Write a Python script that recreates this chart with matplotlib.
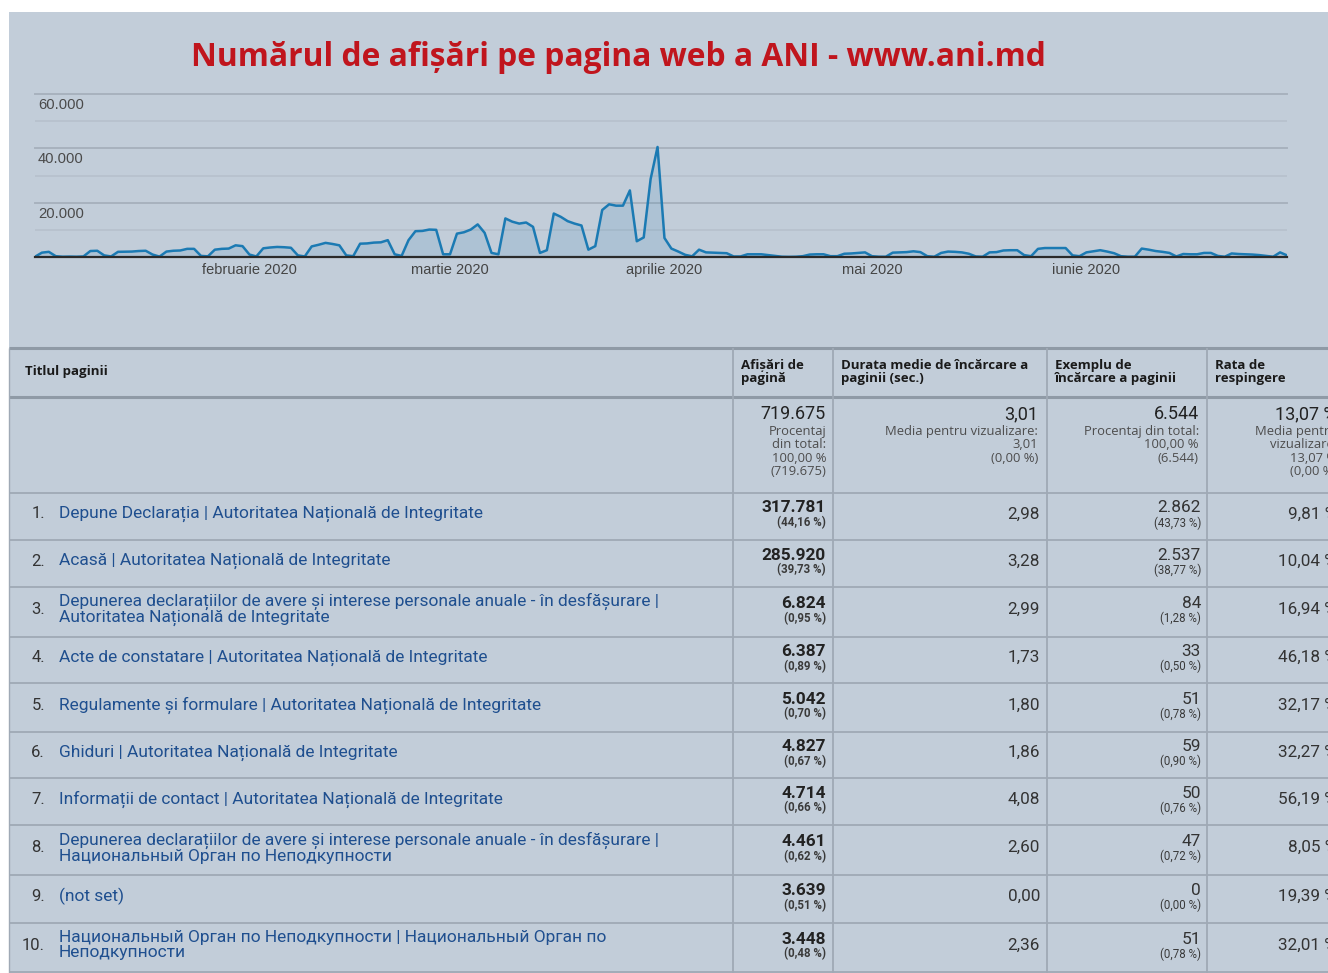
import numpy as np
import pandas as pd
import matplotlib
matplotlib.use('Agg')
import matplotlib.pyplot as plt
from matplotlib.patches import Rectangle

W, H = 1328, 973

# afisari zilnice 1 ian - 30 iun 2020, pe saptamani
afisari_zilnice = (
    [100, 1600, 1900, 300, 100]
    + [150, 100, 200, 2200, 2300, 600, 200]
    + [1900, 1950, 2000, 2200, 2300, 900, 150]
    + [2000, 2300, 2400, 3000, 3000, 400, 250]
    + [2700, 3000, 3100, 4300, 4000, 900, 200]
    + [3200, 3500, 3700, 3600, 3400, 600, 200]
    + [3900, 4500, 5200, 4800, 4300, 600, 300]
    + [4900, 5000, 5300, 5400, 6200, 1000, 400]
    + [6200, 9500, 9600, 10100, 10000, 1000, 1000]
    + [8600, 9100, 10100, 12000, 8900, 1500, 1000]
    + [14200, 13000, 12300, 12700, 11100, 1500, 2500]
    + [16000, 14800, 13200, 12300, 11600, 2700, 4000]
    + [17300, 19400, 18900, 18900, 24500, 5800, 7200]
    + [28700, 40500, 7000, 3100, 2000, 800, 250]
    + [2700, 1700, 1600, 1500, 1400, 200, 200]
    + [1000, 1000, 1000, 700, 400, 100, 50]
    + [100, 300, 900, 1000, 1000, 300, 300]
    + [1200, 1300, 1500, 1700, 300, 100, 100]
    + [1600, 1700, 1800, 2100, 1800, 300, 100]
    + [1500, 2000, 1900, 1700, 1200, 200, 100]
    + [1700, 1800, 2400, 2500, 2500, 700, 300]
    + [3000, 3300, 3300, 3300, 3300, 600, 300]
    + [1700, 2100, 2500, 2000, 1400, 300, 100]
    + [100, 3100, 2700, 2200, 1900, 1500, 200]
    + [1100, 1000, 1000, 1500, 1500, 400, 100]
    + [1300, 1100, 1000, 900, 700, 400, 100]
    + [1700, 600]
)
zile = pd.date_range('2020-01-01', '2020-06-30', freq='D')

luni = ['februarie 2020', 'martie 2020', 'aprilie 2020', 'mai 2020', 'iunie 2020']
luni_start = pd.to_datetime(['2020-02-01', '2020-03-01', '2020-04-01', '2020-05-01', '2020-06-01'])
y_major = [20000, 40000, 60000]
y_major_lbl = ['20.000', '40.000', '60.000']
y_minor = [10000, 30000, 50000]

titlu = 'Numărul de afișări pe pagina web a ANI - www.ani.md'

# tabel
coloane = ['Titlul paginii', 'Afișări de\npagină', 'Durata medie de încărcare a\npaginii (sec.)',
           'Exemplu de\nîncărcare a paginii', 'Rata de\nrespingere']
total_afisari = 719675
total_durata = 3.01
total_exemplu = 6544
total_rata = 13.07

pagini = [
    'Depune Declarația | Autoritatea Națională de Integritate',
    'Acasă | Autoritatea Națională de Integritate',
    'Depunerea declarațiilor de avere și interese personale anuale - în desfășurare |\nAutoritatea Națională de Integritate',
    'Acte de constatare | Autoritatea Națională de Integritate',
    'Regulamente și formulare | Autoritatea Națională de Integritate',
    'Ghiduri | Autoritatea Națională de Integritate',
    'Informații de contact | Autoritatea Națională de Integritate',
    'Depunerea declarațiilor de avere și interese personale anuale - în desfășurare |\nНациональный Орган по Неподкупности',
    '(not set)',
    'Национальный Орган по Неподкупности | Национальный Орган по\nНеподкупности',
]
afisari = [317781, 285920, 6824, 6387, 5042, 4827, 4714, 4461, 3639, 3448]
afisari_pct = [44.16, 39.73, 0.95, 0.89, 0.70, 0.67, 0.66, 0.62, 0.51, 0.48]
durata = [2.98, 3.28, 2.99, 1.73, 1.80, 1.86, 4.08, 2.60, 0.00, 2.36]
exemplu = [2862, 2537, 84, 33, 51, 59, 50, 47, 0, 51]
exemplu_pct = [43.73, 38.77, 1.28, 0.50, 0.78, 0.90, 0.76, 0.72, 0.00, 0.78]
rata = [9.81, 10.04, 16.94, 46.18, 32.17, 32.27, 56.19, 8.05, 19.39, 32.01]


def nr(n):
    return f'{n:,}'.replace(',', '.')


def zec(v):
    return f'{v:.2f}'.replace('.', ',')


BG = '#c2cdd9'
LINIE_TAB = '#9fa9b5'
ALBASTRU = '#1b7ab3'
LINK = '#1f4f8f'

fig = plt.figure(figsize=(W / 100, H / 100), dpi=100)
fig.patch.set_facecolor('white')

# axa de fundal in pixeli, pentru tabel
tab = fig.add_axes([0, 0, 1, 1], zorder=0)
tab.set_xlim(0, W)
tab.set_ylim(H, 0)
tab.axis('off')
tab.add_patch(Rectangle((9, 12), W - 9, H - 12, facecolor=BG, edgecolor='none'))

fig.text(618 / W, 1 - 57 / H, titlu, ha='center', va='center', color='#c0151d',
         fontsize=22.9, fontweight='bold', family='Open Sans')

# --- graficul ---
x0, x1, ytop, ybot = 35, 1287, 94, 257
ax = fig.add_axes([x0 / W, 1 - ybot / H, (x1 - x0) / W, (ybot - ytop) / H], zorder=1)
ax.set_facecolor('none')
for s in ax.spines.values():
    s.set_visible(False)
ax.set_xlim(zile[0], zile[-1])
ax.set_ylim(0, 60000)
for v in y_minor:
    ax.axhline(v, color='#b6c0cc', lw=1.2, zorder=1)
for v in y_major:
    ax.axhline(v, color='#a8b2be', lw=1.4, zorder=1, clip_on=False)
ax.fill_between(zile, afisari_zilnice, 0, color=ALBASTRU, alpha=0.12, lw=0, zorder=2)
ax.plot(zile, afisari_zilnice, color=ALBASTRU, lw=1.8, zorder=3)
ax.axhline(0, color='#2a2a2a', lw=1.6, zorder=4, clip_on=False)
for v, lbl in zip(y_major, y_major_lbl):
    ax.annotate(lbl, xy=(0, v), xycoords=('axes fraction', 'data'), xytext=(3, -4),
                textcoords='offset pixels', ha='left', va='top', fontsize=10.6,
                color='#4a4a4a', family='Liberation Sans')
ax.set_yticks([])
ax.set_xticks(luni_start)
ax.set_xticklabels(luni, fontsize=10.5, color='#444444', family='Liberation Sans')
ax.tick_params(axis='x', length=0, pad=4)

# --- tabelul ---
col_x = [9, 733, 833, 1047, 1207]
randuri = [493, 540, 587, 637, 683, 732, 778, 825, 875, 923, 972]
tab.hlines([348, 397], 9, W, color='#8f9aa6', lw=2.2)
tab.hlines(randuri, 9, W, color=LINIE_TAB, lw=1.3)
tab.vlines(col_x[1:], 348, H, color=LINIE_TAB, lw=1.3)
tab.vlines(9, 348, H, color=LINIE_TAB, lw=1.0)

tab.text(25, 372, coloane[0], ha='left', va='center', fontsize=9.5, fontweight='bold',
         color='#1a1a1a', family='Open Sans')
for cx, c in zip(col_x[1:], coloane[1:]):
    tab.text(cx + 8, 359, c, ha='left', va='top', fontsize=9.5, fontweight='bold',
             color='#1a1a1a', family='Open Sans', linespacing=0.98)

# rand total
dr = [826, 1038, 1199, 1337]
sub = dict(ha='right', va='top', fontsize=9.4, color='#4d4d4d', family='Open Sans',
           linespacing=1.03)
mare = dict(ha='right', va='center', fontsize=13, color='#222222', family='Roboto')
tab.text(dr[0], 414, nr(total_afisari), **mare)
tab.text(dr[0], 425, f'Procentaj\ndin total:\n100,00 %\n({nr(total_afisari)})', **sub)
tab.text(dr[1], 414, zec(total_durata), **mare)
tab.text(dr[1], 425, f'Media pentru vizualizare:\n{zec(total_durata)}\n(0,00 %)', **sub)
tab.text(dr[2], 414, nr(total_exemplu), **mare)
tab.text(dr[2], 425, f'Procentaj din total:\n100,00 %\n({nr(total_exemplu)})', **sub)
tab.text(dr[3], 414, zec(total_rata) + ' %', **mare)
tab.text(dr[3], 425, f'Media pentru\nvizualizare:\n{zec(total_rata)} %\n(0,00 %)', **sub)

for i in range(len(pagini)):
    yc = (randuri[i] + randuri[i + 1]) / 2 - 2.5
    tab.text(45, yc, f'{i + 1}.', ha='right', va='center', fontsize=12, color='#333333',
             family='Roboto')
    tab.text(59, yc, pagini[i], ha='left', va='center', fontsize=12.5, color=LINK,
             family='Roboto', linespacing=0.98)
    tab.text(dr[0], yc - 6, nr(afisari[i]), ha='right', va='center', fontsize=12.4,
             fontweight='bold', color='#222222', family='Roboto')
    tab.text(dr[0], yc + 9, f'({zec(afisari_pct[i])} %)', ha='right', va='center',
             fontsize=8.3, fontweight='bold', color='#3a3a3a', family='Roboto')
    tab.text(dr[1] + 2, yc, zec(durata[i]), ha='right', va='center', fontsize=12.3,
             color='#333333', family='Roboto')
    tab.text(dr[2] + 2, yc - 6, nr(exemplu[i]), ha='right', va='center', fontsize=12.4,
             color='#333333', family='Roboto')
    tab.text(dr[2] + 2, yc + 9, f'({zec(exemplu_pct[i])} %)', ha='right', va='center',
             fontsize=8.3, color='#3a3a3a', family='Roboto')
    tab.text(dr[3], yc, zec(rata[i]) + ' %', ha='right', va='center', fontsize=12.3,
             color='#333333', family='Roboto')

fig.savefig('out.png', dpi=100, facecolor=fig.get_facecolor())
